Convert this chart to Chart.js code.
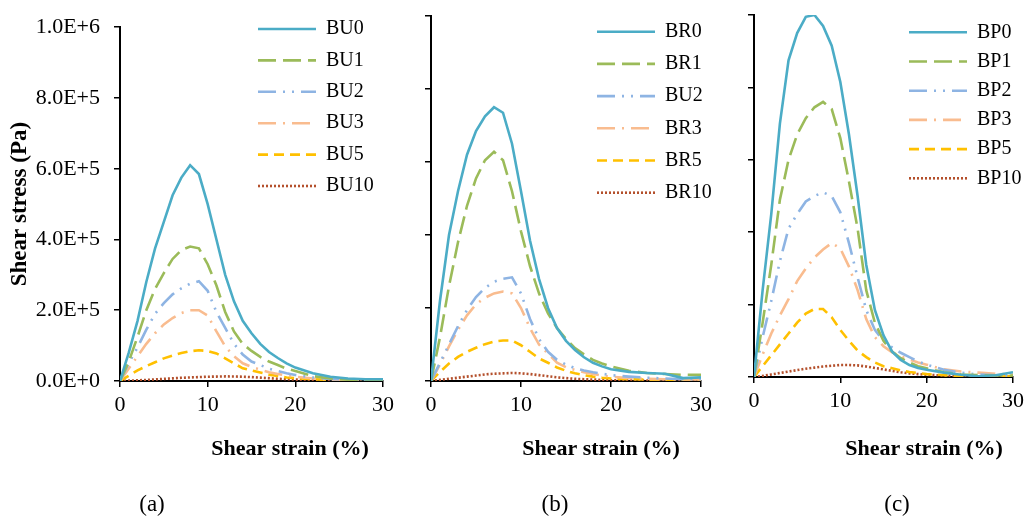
<!DOCTYPE html>
<html>
<head>
<meta charset="utf-8">
<script src="https://cdn.jsdelivr.net/npm/chart.js@4.4.1/dist/chart.umd.min.js"></script>
<style>
  body { margin: 0; background: #fff; }
  #wrap { position: relative; width: 1033px; height: 526px; overflow: hidden; background: #fff; }
  .panel { position: absolute; top: 0; height: 526px; }
</style>
</head>
<body>
<div id="wrap">
  <div class="panel" style="left:0px;width:400px"><canvas id="chart-a" width="400" height="526"></canvas></div>
  <div class="panel" style="left:400px;width:320px"><canvas id="chart-b" width="320" height="526"></canvas></div>
  <div class="panel" style="left:720px;width:313px"><canvas id="chart-c" width="313" height="526"></canvas></div>
</div>
<script>
// shear strain (%) sample points, shared by every curve
const strain = [0, 1, 2, 3, 4, 5, 6, 7, 8, 9, 10, 11, 12, 13, 14, 15, 16, 17, 18, 19, 20, 22, 24, 26, 28, 30];

// shear stress in kPa (plotted in Pa)
const BU0  = [0, 80, 170, 280, 375, 450, 525, 575, 610, 585, 500, 400, 300, 225, 170, 135, 105, 82, 65, 50, 38, 22, 12, 7, 5, 5];
const BU1  = [0, 55, 125, 200, 260, 305, 345, 370, 380, 375, 330, 270, 195, 140, 105, 85, 68, 55, 45, 35, 28, 14, 7, 4, 3, 2];
const BU2  = [0, 50, 95, 145, 190, 220, 245, 262, 275, 282, 255, 195, 150, 105, 75, 55, 45, 35, 28, 22, 17, 10, 6, 4, 3, 2];
const BU3  = [0, 35, 70, 105, 135, 160, 178, 192, 200, 200, 185, 140, 98, 70, 50, 40, 32, 25, 20, 15, 12, 7, 4, 3, 2, 2];
const BU5  = [0, 15, 30, 42, 53, 64, 72, 79, 84, 87, 85, 78, 64, 50, 36, 30, 24, 18, 14, 10, 8, 5, 3, 2, 1, 1];
const BU10 = [0, 1, 2, 3, 4.5, 6, 7.5, 9, 10, 11, 12, 12.5, 13, 12.8, 12, 11, 9.5, 8, 6.5, 5, 4, 2.5, 1.5, 1, 0.5, 0.5];

const BR0  = [0, 220, 400, 520, 620, 685, 725, 750, 735, 650, 520, 385, 280, 200, 145, 110, 85, 65, 50, 40, 32, 25, 22, 20, 8, 10];
const BR1  = [0, 120, 260, 380, 480, 555, 605, 628, 605, 520, 410, 315, 240, 185, 145, 115, 90, 73, 58, 48, 40, 28, 22, 19, 17, 17];
const BR2  = [0, 50, 100, 150, 195, 230, 255, 272, 280, 284, 240, 170, 115, 80, 58, 45, 35, 29, 24, 20, 16, 12, 9, 7, 5, 5];
const BR3  = [0, 45, 95, 140, 180, 210, 228, 240, 245, 240, 200, 145, 100, 75, 50, 38, 30, 24, 19, 15, 12, 8, 6, 5, 4, 4];
const BR5  = [0, 25, 48, 66, 80, 91, 101, 108, 111, 111, 98, 80, 62, 50, 37, 28, 21, 16, 12, 9, 7, 5, 4, 3, 3, 3];
const BR10 = [0, 3, 6, 9, 12, 15, 18, 20, 21, 22, 21, 19, 16, 13, 10, 8, 6, 5, 4, 3, 2, 2, 1, 1, 1, 1];

const BP0  = [0, 240, 450, 700, 875, 950, 995, 1000, 970, 915, 815, 670, 500, 310, 185, 115, 70, 47, 33, 25, 20, 12, 6, 2, 5, 13];
const BP1  = [0, 150, 310, 490, 600, 670, 715, 745, 760, 740, 660, 540, 410, 240, 150, 100, 70, 52, 40, 30, 24, 13, 7, 5, 4, 4];
const BP2  = [0, 110, 210, 320, 410, 450, 485, 500, 510, 500, 455, 370, 275, 185, 130, 100, 82, 67, 55, 43, 34, 20, 12, 7, 5, 4];
const BP3  = [0, 62, 120, 170, 215, 265, 300, 330, 352, 370, 355, 305, 240, 160, 110, 85, 68, 57, 48, 40, 34, 21, 15, 12, 9, 7];
const BP5  = [0, 30, 60, 90, 120, 150, 175, 188, 188, 165, 130, 100, 73, 55, 40, 30, 24, 18, 14, 11, 8, 5, 3, 2, 2, 2];
const BP10 = [0, 3, 7, 11, 15, 19, 23, 26, 29, 31, 33, 33, 32, 29, 25, 21, 17, 13, 10, 8, 6, 4, 2, 1, 1, 1];

const namesA = ["BU0", "BU1", "BU2", "BU3", "BU5", "BU10"];
const namesB = ["BR0", "BR1", "BU2", "BR3", "BR5", "BR10"];
const namesC = ["BP0", "BP1", "BP2", "BP3", "BP5", "BP10"];

const xTicks = [0, 10, 20, 30];
const yTicks = [0, 2e5, 4e5, 6e5, 8e5, 1e6];

const colors = ["#4bacc6", "#9bbb59", "#8eb4e3", "#f9bc8f", "#ffc000", "#b4502c"];
const dashes = [[], [18, 7], [18, 7, 2, 7, 2, 7], [18, 7, 2, 7], [10, 6], [2, 2]];

const serif = '"Times New Roman", "Liberation Serif", serif';

// 2.0E+5 style labels
function sci(v) {
    if (v === 0) return "0.0E+0";
    const e = Math.floor(Math.log10(v));
    return (v / Math.pow(10, e)).toFixed(1) + "E+" + e;
}

// legend samples should carry the dataset's dash pattern
function legendLabels(chart) {
    return Chart.defaults.plugins.legend.labels.generateLabels(chart).map(item => {
        const ds = chart.data.datasets[item.datasetIndex];
        item.lineDash = ds.borderDash;
        item.lineWidth = ds.borderWidth;
        item.strokeStyle = ds.borderColor;
        item.lineCap = "butt";
        return item;
    });
}

// moves the legend inside the plot and writes the axis title / panel tag
const panelDecor = {
    id: "panelDecor",
    afterLayout(chart, args, opts) {
        const lg = chart.legend;
        if (!lg) return;
        lg.left = opts.legendLeft;
        lg.top = opts.legendTop;
        lg.right = chart.width;
        lg.bottom = chart.height;
    },
    afterDraw(chart, args, opts) {
        const ctx = chart.ctx;
        ctx.save();
        ctx.fillStyle = "#000";
        ctx.textAlign = "center";
        ctx.textBaseline = "middle";
        ctx.font = "bold 22px " + serif;
        ctx.fillText("Shear strain (%)", opts.titleX, opts.titleY);
        ctx.font = "23px " + serif;
        ctx.fillText(opts.tag, opts.tagX, opts.tagY);
        ctx.restore();
    }
};

function makeChart(id, names, series, cfg) {
    const ctx = document.getElementById(id).getContext("2d");
    return new Chart(ctx, {
        type: "line",
        data: {
            datasets: series.map((vals, i) => ({
                label: names[i],
                data: strain.map((s, j) => ({ x: s, y: vals[j] * 1000 })),
                borderColor: colors[i],
                backgroundColor: colors[i],
                borderWidth: 2.6,
                borderDash: dashes[i],
                pointRadius: 0,
                tension: 0,
                fill: false
            }))
        },
        options: {
            responsive: false,
            animation: false,
            devicePixelRatio: 1,
            layout: { padding: { left: 0, right: cfg.padRight, top: cfg.padTop, bottom: 0 } },
            plugins: {
                tooltip: { enabled: false },
                legend: {
                    position: "chartArea",
                    align: "start",
                    labels: {
                        usePointStyle: true,
                        pointStyle: "line",
                        pointStyleWidth: 58,
                        padding: cfg.legendGap,
                        color: "#000",
                        font: { family: serif, size: 20 },
                        generateLabels: legendLabels
                    }
                },
                panelDecor: cfg.decor
            },
            scales: {
                x: {
                    type: "linear",
                    min: 0,
                    max: 30,
                    afterFit: (scale) => { scale.height = cfg.xHeight; },
                    afterBuildTicks: (scale) => { scale.ticks = xTicks.map(v => ({ value: v })); },
                    border: { display: true, color: "#000", width: 2 },
                    grid: { drawOnChartArea: false, drawTicks: true, tickLength: 6, color: "#000", lineWidth: 1.5 },
                    ticks: { color: "#000", padding: 5, font: { family: serif, size: 22 } }
                },
                y: {
                    min: 0,
                    max: 1e6,
                    afterFit: (scale) => { scale.width = cfg.yWidth; },
                    afterBuildTicks: (scale) => { scale.ticks = yTicks.map(v => ({ value: v })); },
                    border: { display: true, color: "#000", width: 2 },
                    grid: { drawOnChartArea: false, drawTicks: true, tickLength: 6, color: "#000", lineWidth: 1.5 },
                    ticks: {
                        display: cfg.yLabels,
                        color: "#000",
                        padding: 14,
                        font: { family: serif, size: 22 },
                        callback: (v) => sci(v)
                    },
                    title: {
                        display: cfg.yLabels,
                        text: "Shear stress (Pa)",
                        color: "#000",
                        padding: { top: 6, bottom: 0 },
                        font: { family: serif, size: 23, weight: "bold" }
                    }
                }
            }
        },
        plugins: [panelDecor]
    });
}

makeChart("chart-a", namesA, [BU0, BU1, BU2, BU3, BU5, BU10], {
    padRight: 17, padTop: 16, xHeight: 145, yWidth: 120, yLabels: true, legendGap: 11.4,
    decor: { legendLeft: 246.6, legendTop: 7.6, titleX: 290, titleY: 449, tag: "(a)", tagX: 152, tagY: 505 }
});
makeChart("chart-b", namesB, [BR0, BR1, BR2, BR3, BR5, BR10], {
    padRight: 19, padTop: 16, xHeight: 145, yWidth: 31, yLabels: false, legendGap: 12.2,
    decor: { legendLeft: 184.8, legendTop: 9.5, titleX: 201, titleY: 449, tag: "(b)", tagX: 155, tagY: 505 }
});
makeChart("chart-c", namesC, [BP0, BP1, BP2, BP3, BP5, BP10], {
    padRight: 20, padTop: 15, xHeight: 149, yWidth: 34, yLabels: false, legendGap: 9.2,
    decor: { legendLeft: 179.8, legendTop: 13.1, titleX: 204, titleY: 449, tag: "(c)", tagX: 177, tagY: 505 }
});
</script>
</body>
</html>
